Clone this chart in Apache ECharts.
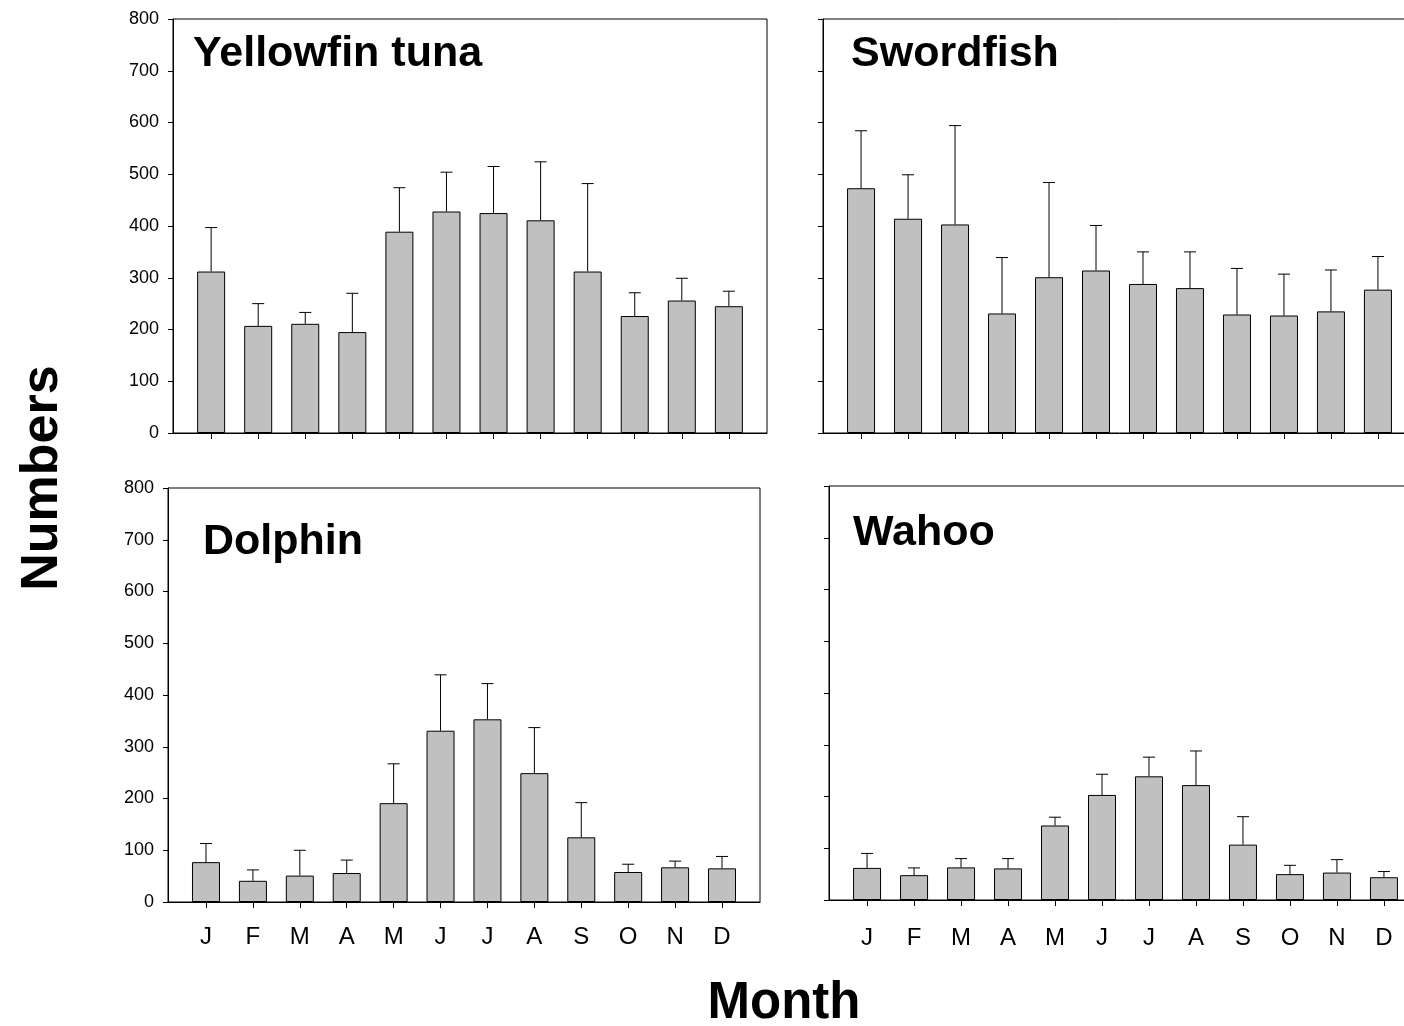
<!DOCTYPE html>
<html>
<head>
<meta charset="utf-8">
<script src="https://cdn.jsdelivr.net/npm/echarts@6/dist/echarts.min.js"></script>
<style>
  html, body { margin: 0; padding: 0; background: #fff; overflow: hidden; }
  #main { width: 1440px; height: 1026px; }
</style>
</head>
<body>
<div id="main"></div>
<script>
const months = ['J', 'F', 'M', 'A', 'M', 'J', 'J', 'A', 'S', 'O', 'N', 'D']
const monthPos = [1, 2, 3, 4, 5, 6, 7, 8, 9, 10, 11, 12]

// mean catch and upper error (SE) per month
const yellowfinMean = [312, 207, 211, 195, 389, 428, 425, 411, 312, 226, 256, 245]
const yellowfinErr  = [85, 43, 22, 75, 85, 76, 90, 113, 170, 45, 43, 29]
const swordfishMean = [473, 414, 403, 231, 301, 314, 288, 280, 229, 227, 235, 277]
const swordfishErr  = [111, 85, 191, 108, 183, 87, 62, 70, 89, 80, 80, 64]
const dolphinMean   = [77, 41, 51, 56, 191, 331, 353, 249, 125, 58, 67, 65]
const dolphinErr    = [36, 21, 49, 25, 76, 108, 69, 88, 67, 15, 12, 23]
const wahooMean     = [62, 48, 63, 61, 144, 203, 239, 222, 107, 50, 53, 44]
const wahooErr      = [28, 14, 17, 19, 16, 40, 37, 66, 54, 17, 25, 11]

const font = 'Liberation Sans, Arial, sans-serif'

// panel layout (pixels); right panels run past the page edge like the original
const panels = [
  { name: 'Yellowfin tuna', mean: yellowfinMean, err: yellowfinErr,
    grid: { left: 173, top: 19, width: 594, height: 414 },
    showY: true, showX: false, title: [193, 54.5] },
  { name: 'Swordfish', mean: swordfishMean, err: swordfishErr,
    grid: { left: 823, top: 19, width: 593, height: 414 },
    showY: false, showX: false, title: [851, 54] },
  { name: 'Dolphin', mean: dolphinMean, err: dolphinErr,
    grid: { left: 168, top: 488, width: 592, height: 414 },
    showY: true, showX: true, xMargin: 23, title: [203, 542] },
  { name: 'Wahoo', mean: wahooMean, err: wahooErr,
    grid: { left: 829, top: 486, width: 593, height: 414 },
    showY: false, showX: true, xMargin: 26, title: [853, 533.5] }
]

function errorBar(params, api){
  let x = api.value(0)
  let p0 = api.coord([x, api.value(1)])
  let p1 = api.coord([x, api.value(2)])
  let st = { stroke: '#000', lineWidth: 1 }
  return {
    type: 'group',
    children: [
      { type: 'line', shape: { x1: p0[0], y1: p0[1], x2: p1[0], y2: p1[1] }, style: st },
      { type: 'line', shape: { x1: p1[0] - 6, y1: p1[1], x2: p1[0] + 6, y2: p1[1] }, style: st }
    ]
  }
}

let option = {
  animation: false,
  backgroundColor: '#fff',
  grid: [], xAxis: [], yAxis: [], series: [],
  graphic: []
}

panels.forEach((p, i) => {
  option.grid.push(Object.assign({
    show: true, borderColor: '#000', borderWidth: 1, backgroundColor: 'transparent',
    containLabel: false, outerBoundsMode: 'none'
  }, p.grid))

  option.xAxis.push({
    type: 'value', gridIndex: i,
    min: 0.19, max: 12.81,
    axisLine: { show: true, onZero: false, lineStyle: { color: '#000', width: 1 } },
    axisTick: { show: true, inside: false, length: 6, customValues: monthPos,
      lineStyle: { color: '#000', width: 1 } },
    axisLabel: { show: p.showX, customValues: monthPos, margin: p.xMargin || 20,
      formatter: v => months[Math.round(v) - 1] || '',
      color: '#000', fontSize: 24, fontFamily: font },
    splitLine: { show: false }
  })

  option.yAxis.push({
    type: 'value', gridIndex: i,
    min: 0, max: 800, interval: 100,
    axisLine: { show: true, lineStyle: { color: '#000', width: 1 } },
    axisTick: { show: true, inside: false, length: 5, lineStyle: { color: '#000', width: 1 } },
    axisLabel: { show: p.showY, margin: 14, color: '#000', fontSize: 18, fontFamily: font },
    splitLine: { show: false }
  })

  option.series.push({
    type: 'bar', xAxisIndex: i, yAxisIndex: i,
    barWidth: 28,
    itemStyle: { color: '#c0c0c0', borderColor: '#000', borderWidth: 1 },
    data: p.mean.map((v, k) => [monthPos[k], v]),
    z: 2
  })

  option.series.push({
    type: 'custom', xAxisIndex: i, yAxisIndex: i,
    renderItem: errorBar,
    encode: { x: 0, y: [1, 2] },
    data: p.mean.map((v, k) => [monthPos[k], v, v + p.err[k]]),
    z: 3
  })

  option.graphic.push({
    type: 'text', x: p.title[0], y: p.title[1],
    style: { text: p.name, fill: '#000', font: 'bold 43px ' + font,
      align: 'left', verticalAlign: 'middle' }
  })
})

option.graphic.push({
  type: 'text', x: 43, y: 478, rotation: Math.PI / 2,
  style: { text: 'Numbers', fill: '#000', font: 'bold 52px ' + font,
    align: 'center', verticalAlign: 'middle' }
})
option.graphic.push({
  type: 'text', x: 784, y: 1004,
  style: { text: 'Month', fill: '#000', font: 'bold 51px ' + font,
    align: 'center', verticalAlign: 'middle' }
})

let chart = echarts.init(document.getElementById('main'), null, { renderer: 'canvas' })
chart.setOption(option)
</script>
</body>
</html>
